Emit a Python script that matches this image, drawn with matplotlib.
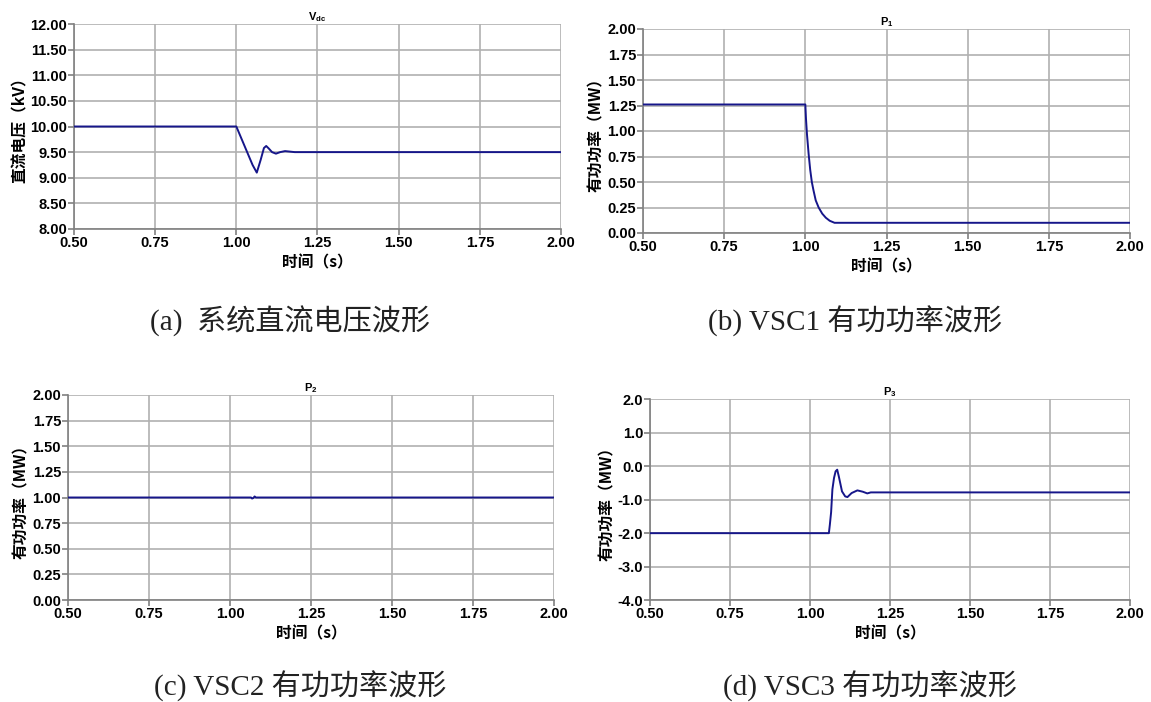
import matplotlib
matplotlib.use("Agg")
import matplotlib.pyplot as plt
from matplotlib.ticker import MultipleLocator, FormatStrFormatter

plt.rcParams['font.family'] = ['Liberation Sans', 'Noto Sans CJK SC']
plt.rcParams['mathtext.fontset'] = 'custom'
plt.rcParams['mathtext.rm'] = 'Liberation Sans'
plt.rcParams['mathtext.bf'] = 'Liberation Sans:bold'

# (a) DC voltage, kV
vdc_t = [0.5, 1.0, 1.01, 1.03, 1.05, 1.063, 1.075, 1.085, 1.092, 1.10, 1.11, 1.122,
         1.135, 1.15, 1.165, 1.18, 2.0]
vdc_v = [10.0, 10.0, 9.85, 9.55, 9.25, 9.10, 9.35, 9.58, 9.62, 9.57, 9.50, 9.47,
         9.50, 9.52, 9.51, 9.50, 9.50]

# (b) VSC1 active power, MW
p1_t = [0.5, 1.0, 1.002, 1.005, 1.010, 1.015, 1.020, 1.025, 1.032, 1.041, 1.052,
        1.063, 1.075, 1.09, 2.0]
p1_v = [1.26, 1.26, 1.12, 0.97, 0.78, 0.62, 0.50, 0.42, 0.32, 0.25, 0.19,
        0.15, 0.12, 0.10, 0.10]

# (c) VSC2 active power, MW
p2_t = [0.5, 1.065, 1.068, 1.072, 1.076, 1.08, 2.0]
p2_v = [1.0, 1.0, 0.99, 0.995, 1.01, 1.0, 1.0]

# (d) VSC3 active power, MW
p3_t = [0.5, 1.059, 1.062, 1.066, 1.07, 1.075, 1.08, 1.085, 1.09, 1.10, 1.11,
        1.117, 1.13, 1.148, 1.165, 1.179, 1.19, 2.0]
p3_v = [-2.0, -2.0, -1.75, -1.37, -0.69, -0.35, -0.15, -0.10, -0.30, -0.75, -0.90,
        -0.92, -0.80, -0.72, -0.76, -0.81, -0.78, -0.78]

W, H = 1151, 702
fig = plt.figure(figsize=(W / 100, H / 100), dpi=100)
label_font = ['Noto Sans CJK SC', 'Liberation Sans']


def make_axes(left, right, top, bottom):
    return fig.add_axes([left / W, 1 - bottom / H, (right - left) / W, (bottom - top) / H])


def style(ax, t, v, title, ylabel, ylim, ystep, yfmt):
    ax.plot(t, v, color='#16168a', lw=1.4, zorder=3)
    ax.set_xlim(0.5, 2.0)
    ax.set_ylim(*ylim)
    ax.xaxis.set_major_locator(MultipleLocator(0.25))
    ax.yaxis.set_major_locator(MultipleLocator(ystep))
    ax.xaxis.set_major_formatter(FormatStrFormatter('%.2f'))
    ax.yaxis.set_major_formatter(FormatStrFormatter(yfmt))
    ax.grid(True, color='#b0b0b0', lw=1.2)
    for s in ['top', 'right']:
        ax.spines[s].set_visible(False)
    for s in ['left', 'bottom']:
        ax.spines[s].set_color('#808080')
        ax.spines[s].set_linewidth(1.2)
    ax.tick_params(direction='out', length=4, width=1.2, color='#808080',
                   labelsize=10.5, pad=1)
    for lab in ax.get_xticklabels() + ax.get_yticklabels():
        lab.set_fontweight('bold')
    ax.set_title(title, fontsize=8, fontweight='bold', pad=3)
    ax.set_ylabel(ylabel, fontsize=11.3, fontweight='bold', family=label_font, labelpad=2)
    ax.set_xlabel('时间（s）', fontsize=11.3, fontweight='bold', family=label_font, labelpad=3)


ax_a = make_axes(74, 561, 24, 229)
style(ax_a, vdc_t, vdc_v, r'$\mathbf{V_{dc}}$', '直流电压（kV）', (8.0, 12.0), 0.5, '%.2f')

ax_b = make_axes(643, 1130, 29, 233)
style(ax_b, p1_t, p1_v, r'$\mathbf{P_{1}}$', '有功功率（MW）', (0.0, 2.0), 0.25, '%.2f')

ax_c = make_axes(68, 554, 395, 600)
style(ax_c, p2_t, p2_v, r'$\mathbf{P_{2}}$', '有功功率（MW）', (0.0, 2.0), 0.25, '%.2f')

ax_d = make_axes(650, 1130, 399.5, 600)
style(ax_d, p3_t, p3_v, r'$\mathbf{P_{3}}$', '有功功率（MW）', (-4.0, 2.0), 1.0, '%.1f')

cap_font = ['Liberation Serif', 'Noto Sans CJK SC']
captions = [
    (290, 321, '(a)  系统直流电压波形'),
    (855, 321, '(b) VSC1 有功功率波形'),
    (300, 686, '(c) VSC2 有功功率波形'),
    (870, 686, '(d) VSC3 有功功率波形'),
]
for x, y, s in captions:
    fig.text(x / W, 1 - y / H, s, ha='center', va='center', fontsize=21,
             family=cap_font, color='#222222')

fig.savefig('out.png', dpi=100)
